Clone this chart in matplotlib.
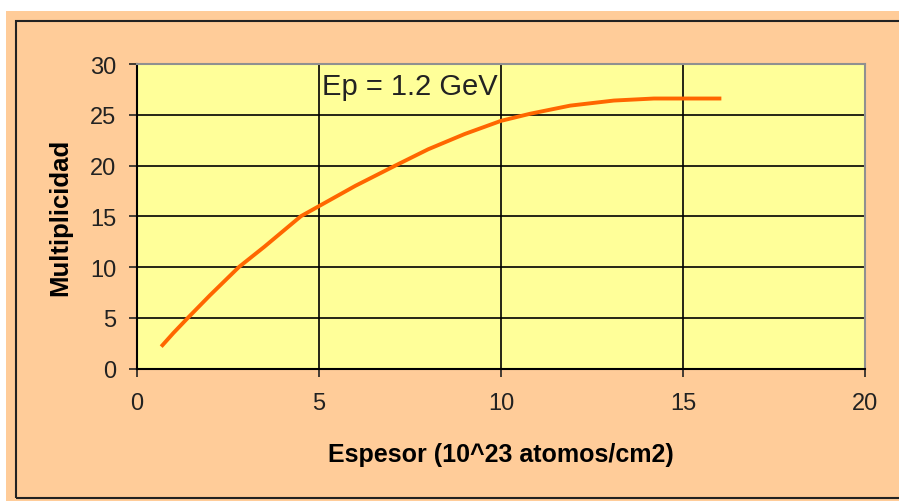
import matplotlib.pyplot as plt
from matplotlib.patches import Rectangle

# espesor (10^23 atomos/cm2) vs multiplicidad
espesor = [0.7, 1.0, 1.4, 2.0, 2.8, 3.5, 4.5, 5.0, 6.0, 7.1, 8.0, 9.0,
           10.0, 10.8, 11.9, 13.1, 14.2, 15.0, 16.0]
multiplicidad = [2.3, 3.5, 5.0, 7.2, 10.0, 12.0, 15.0, 16.0, 18.0, 20.0, 21.6, 23.1,
                 24.4, 25.1, 25.9, 26.4, 26.6, 26.6, 26.6]
xticks = [0, 5, 10, 15, 20]
yticks = [0, 5, 10, 15, 20, 25, 30]

plt.rcParams['font.family'] = ['Liberation Sans', 'DejaVu Sans']

fig = plt.figure(figsize=(8.99, 5.02), dpi=100)
fig.patch.set_facecolor('white')

# fondo melocoton y marco negro
fig.add_artist(Rectangle((0.0067, 0), 1.0, 0.976, transform=fig.transFigure,
                         facecolor='#FFCC99', edgecolor='none', zorder=-2))
fig.add_artist(Rectangle((0.0178, 0.006), 1.05, 0.95, transform=fig.transFigure,
                         facecolor='none', edgecolor='#222222', linewidth=1.5, zorder=-1))

ax = fig.add_axes([0.1524, 0.2639, 0.8098, 0.6066])
ax.set_facecolor('#FFFF99')

ax.plot(espesor, multiplicidad, color='#FF6600', linewidth=2.8, zorder=3)

ax.set_xlim(0, 20)
ax.set_ylim(0, 30)
ax.set_xticks(xticks)
ax.set_yticks(yticks)
ax.grid(True, color='black', linewidth=1.2)
ax.set_axisbelow(True)

for s in ['left', 'bottom']:
    ax.spines[s].set_color('black')
    ax.spines[s].set_linewidth(1.5)
for s in ['top', 'right']:
    ax.spines[s].set_color('#909090')
    ax.spines[s].set_linewidth(1.5)

ax.tick_params(direction='out', length=6, width=1.2, labelsize=17, colors='#222222')
ax.tick_params(axis='x', pad=11)
ax.tick_params(axis='y', pad=9)

ax.set_xlabel('Espesor (10^23 atomos/cm2)', fontsize=18, fontweight='bold', labelpad=20)
ax.set_ylabel('Multiplicidad', fontsize=18.5, fontweight='bold', labelpad=13)

ax.text(5.08, 27.05, 'Ep = 1.2 GeV', fontsize=21, color='#222222', va='baseline', ha='left')

plt.savefig('out.png', dpi=100, facecolor=fig.get_facecolor())
